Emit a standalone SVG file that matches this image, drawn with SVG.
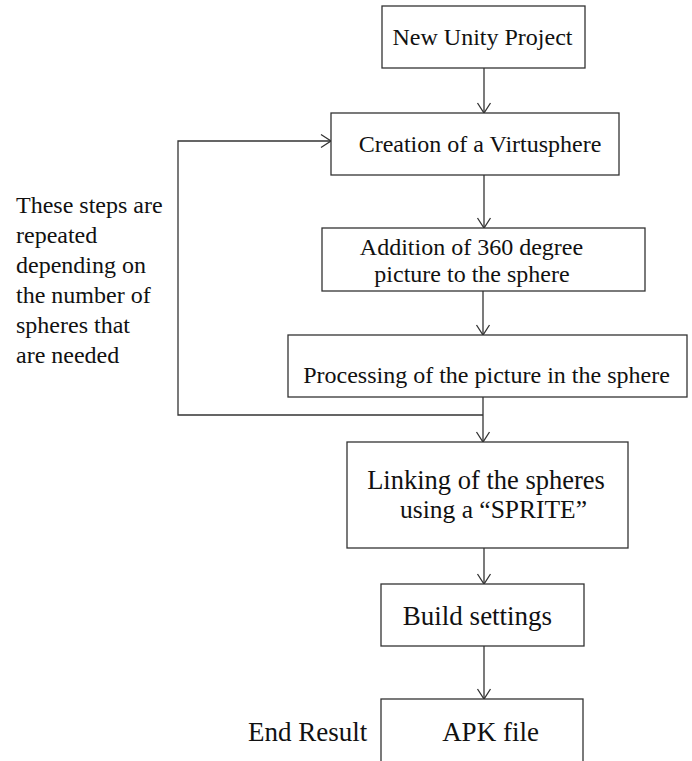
<svg xmlns="http://www.w3.org/2000/svg" width="692" height="761" viewBox="0 0 692 761">
<style>
.box{fill:#fff;stroke:#333;stroke-width:1.3}
.t{font-family:"Liberation Serif","Times New Roman",serif;fill:#111;text-anchor:middle}
.l{font-family:"Liberation Serif","Times New Roman",serif;fill:#111}
.c{fill:none;stroke:#333;stroke-width:1.3}
</style>
<defs>
<marker id="arr" markerUnits="userSpaceOnUse" markerWidth="16" markerHeight="16" viewBox="-12 -8 14 16" refX="0" refY="0" orient="auto">
<path d="M-10,-6.5 L0,0 L-10,6.5" fill="none" stroke="#333" stroke-width="1.3"/>
</marker>
</defs>
<rect width="692" height="761" fill="#fff"/>
<g id="connectors">
<line class="c" x1="484" y1="68" x2="484" y2="113" marker-end="url(#arr)"/>
<line class="c" x1="484" y1="175" x2="484" y2="228" marker-end="url(#arr)"/>
<line class="c" x1="483" y1="291" x2="483" y2="335" marker-end="url(#arr)"/>
<line class="c" x1="483" y1="397" x2="483" y2="442" marker-end="url(#arr)"/>
<polyline class="c" points="483,415 178,415 178,141 331,141" marker-end="url(#arr)"/>
<line class="c" x1="484" y1="548" x2="484" y2="584" marker-end="url(#arr)"/>
<line class="c" x1="484" y1="646" x2="484" y2="699" marker-end="url(#arr)"/>
</g>
<g id="n1"><rect class="box" x="382" y="6" width="203" height="62"/><text class="t" x="482.5" y="45" font-size="24">New Unity Project</text></g>
<g id="n2"><rect class="box" x="331" y="113" width="288" height="62"/><text class="t" x="480" y="152" font-size="24">Creation of a Virtusphere</text></g>
<g id="n3"><rect class="box" x="322" y="228" width="323" height="63"/><text class="t" x="471.5" y="255" font-size="24">Addition of 360 degree</text><text class="t" x="472" y="282" font-size="24">picture to the sphere</text></g>
<g id="n4"><rect class="box" x="288" y="335" width="399" height="62"/><text class="t" x="486.5" y="383" font-size="24">Processing of the picture in the sphere</text></g>
<g id="n5"><rect class="box" x="347" y="442" width="281" height="106"/><text class="t" x="486" y="489" font-size="26.5">Linking of the spheres</text><text class="t" x="493.5" y="518" font-size="25.5">using a “SPRITE”</text></g>
<g id="n6"><rect class="box" x="381" y="584" width="203" height="62"/><text class="t" x="477.5" y="625" font-size="27">Build settings</text></g>
<g id="n7"><rect class="box" x="381" y="699" width="202" height="80"/><text class="t" x="490.5" y="741" font-size="27">APK file</text></g>
<g id="note"><text class="l" x="16" y="213" font-size="24">These steps are</text><text class="l" x="16" y="243" font-size="24">repeated</text><text class="l" x="16" y="273" font-size="24">depending on</text><text class="l" x="16" y="303" font-size="24">the number of</text><text class="l" x="16" y="333" font-size="24">spheres that</text><text class="l" x="16" y="363" font-size="24">are needed</text></g>
<g id="endlabel"><text class="l" x="248" y="741" font-size="27">End Result</text></g>
</svg>
